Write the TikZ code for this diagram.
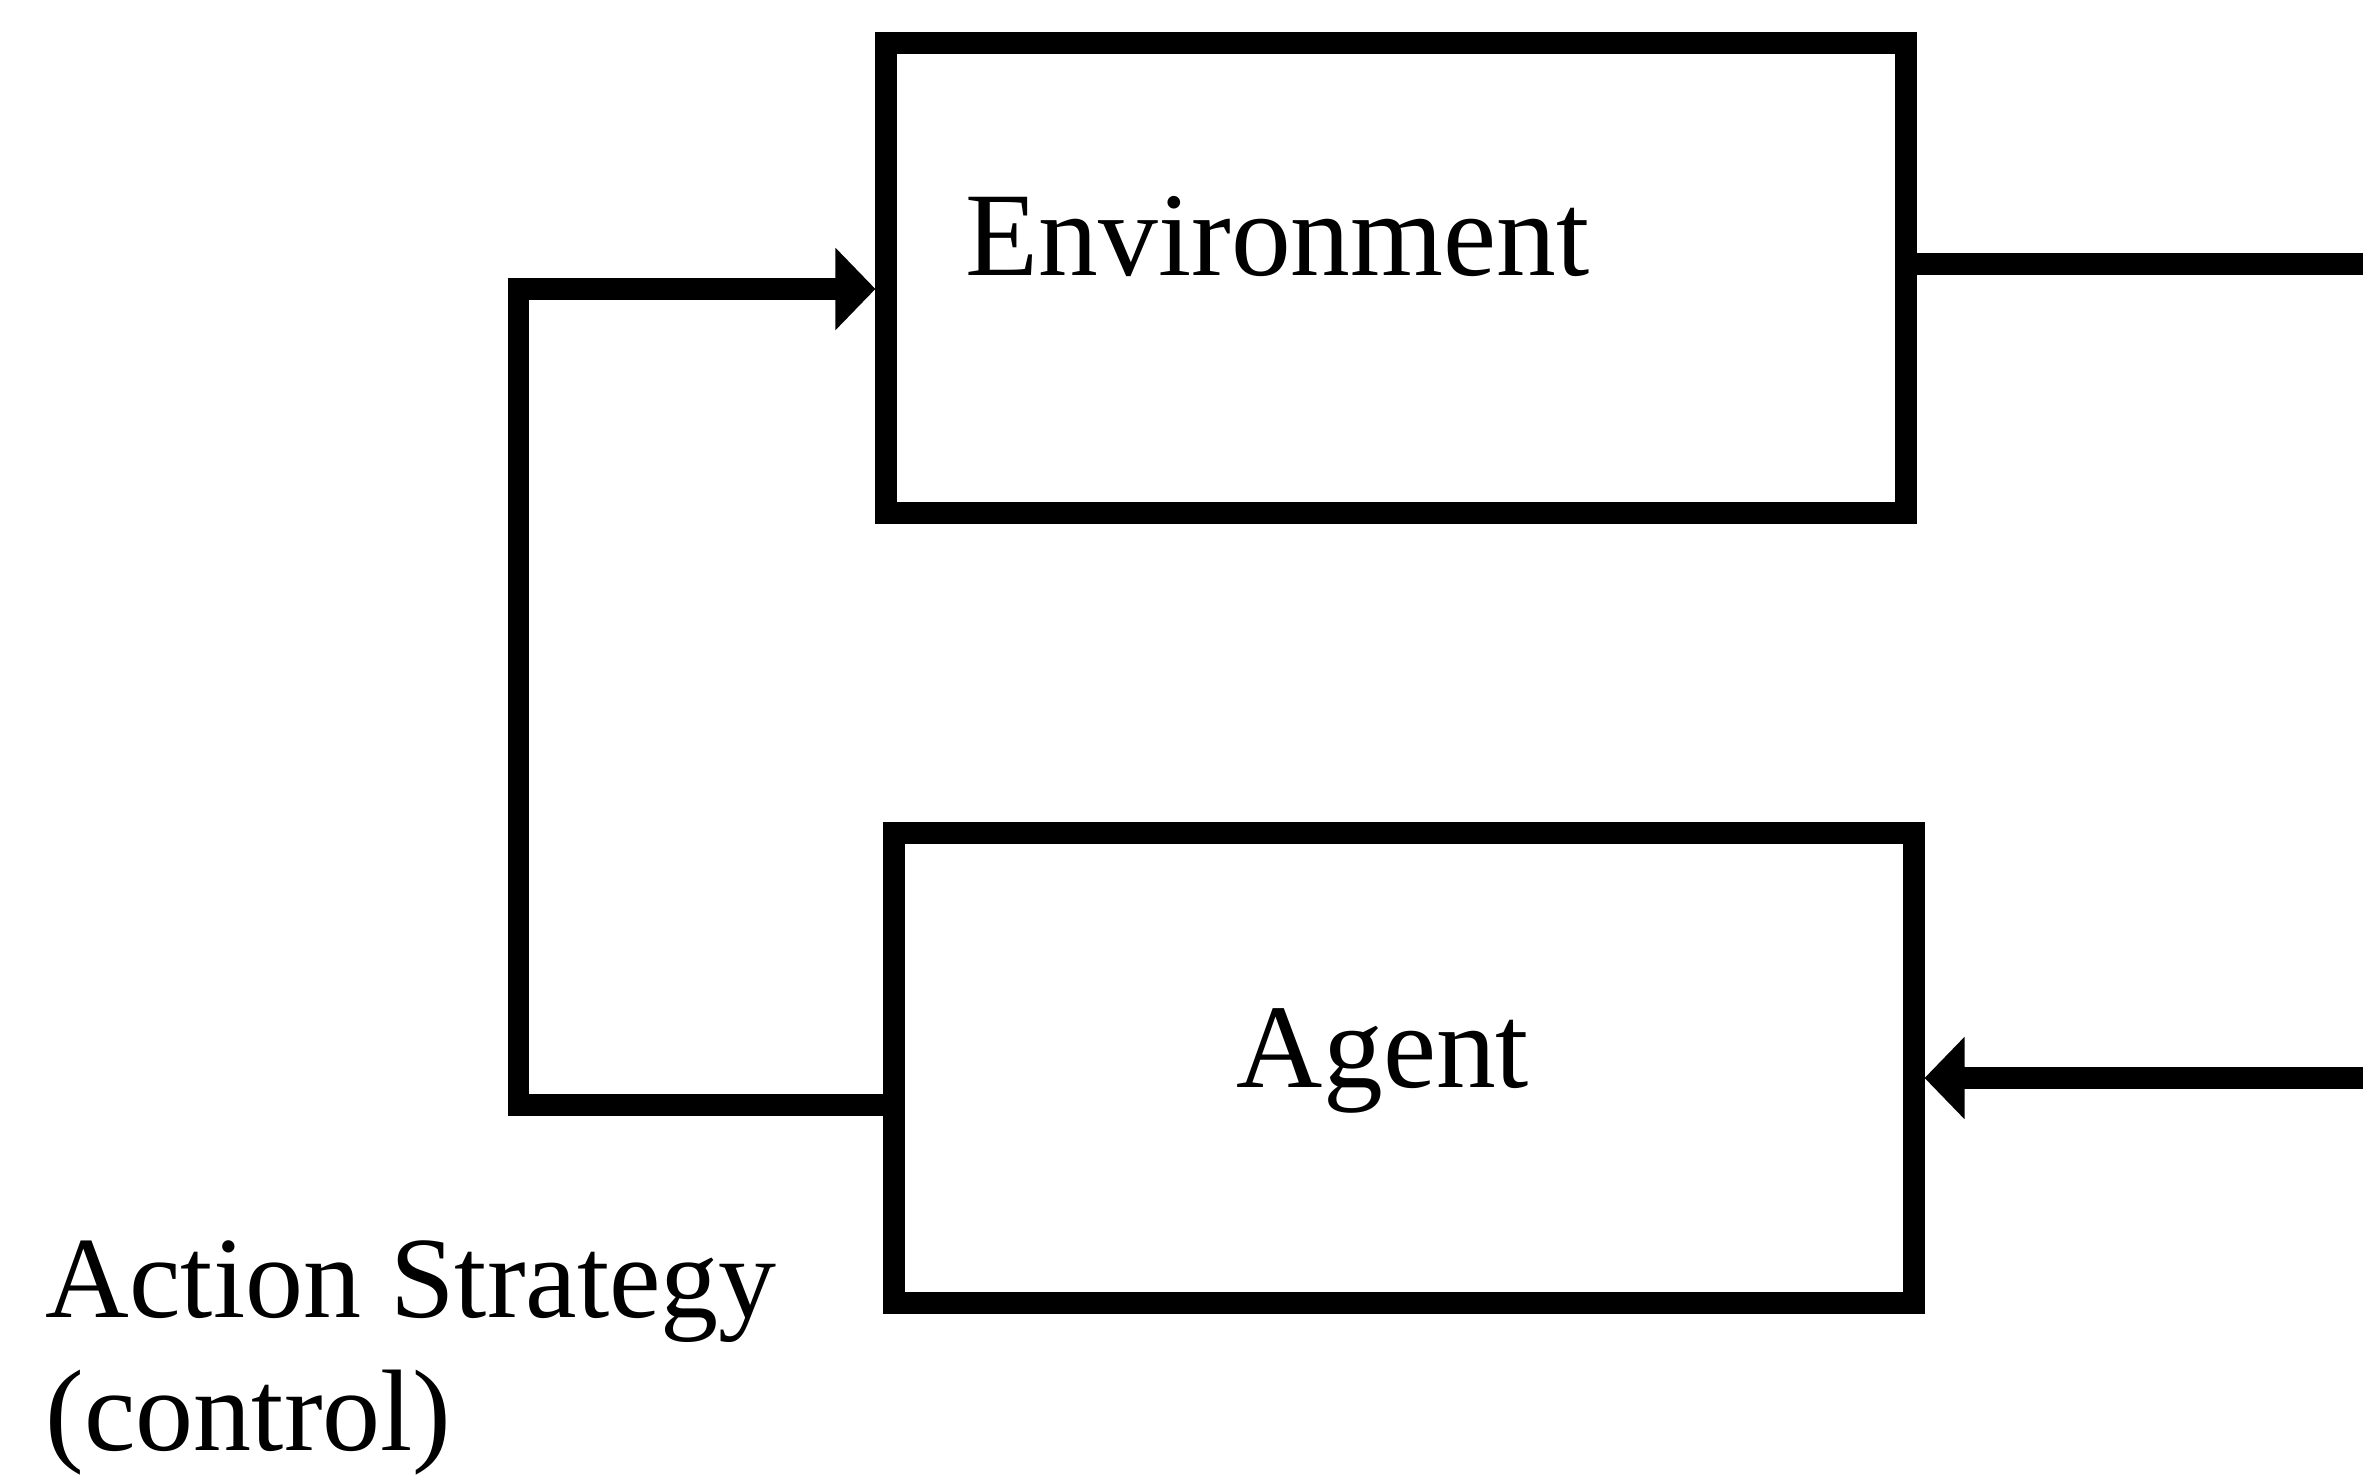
\documentclass[tikz,border=0pt]{standalone}
\usepackage{fontspec}
\setmainfont{Liberation Serif}
\usetikzlibrary{arrows.meta}

\begin{document}
\begin{tikzpicture}[
    box/.style={draw,line width=6pt,minimum width=10.2cm,minimum height=4.7cm},
    wire/.style={line width=6.2pt},
    arr/.style={wire,-{Triangle[length=0.4cm,width=0.8cm]}},
    txt/.style={inner sep=0pt,font=\fontsize{34}{40}\selectfont}
  ]
  \useasboundingbox (0,0) rectangle (23.63,14.83);
  \node [box] (env) at (13.96,12.05) {};
  \node [box] (agent) at (14.04,4.15) {};
  \node [txt,anchor=base west] (envtext) at (9.65,12.07) {Environment};
  \node [txt,anchor=base] (agenttext) at (13.83,3.95) {Agent};
  \node [txt,anchor=base west,align=left,font=\fontsize{33}{38}\selectfont] (action) at (0.45,0.32) {Action Strategy\\(control)};

  \coordinate (envout) at (23.8,12.19);
  \coordinate (agentin) at (23.8,4.05);
  \draw [arr] ([yshift=-0.37cm]agent.west) -- ++(-3.65,0) |- ([yshift=-0.11cm]env.west);
  \draw [wire] ([yshift=0.14cm]env.east) -- (envout);
  \draw [arr] (agentin) -- ([yshift=-0.1cm]agent.east);
\end{tikzpicture}
\end{document}
